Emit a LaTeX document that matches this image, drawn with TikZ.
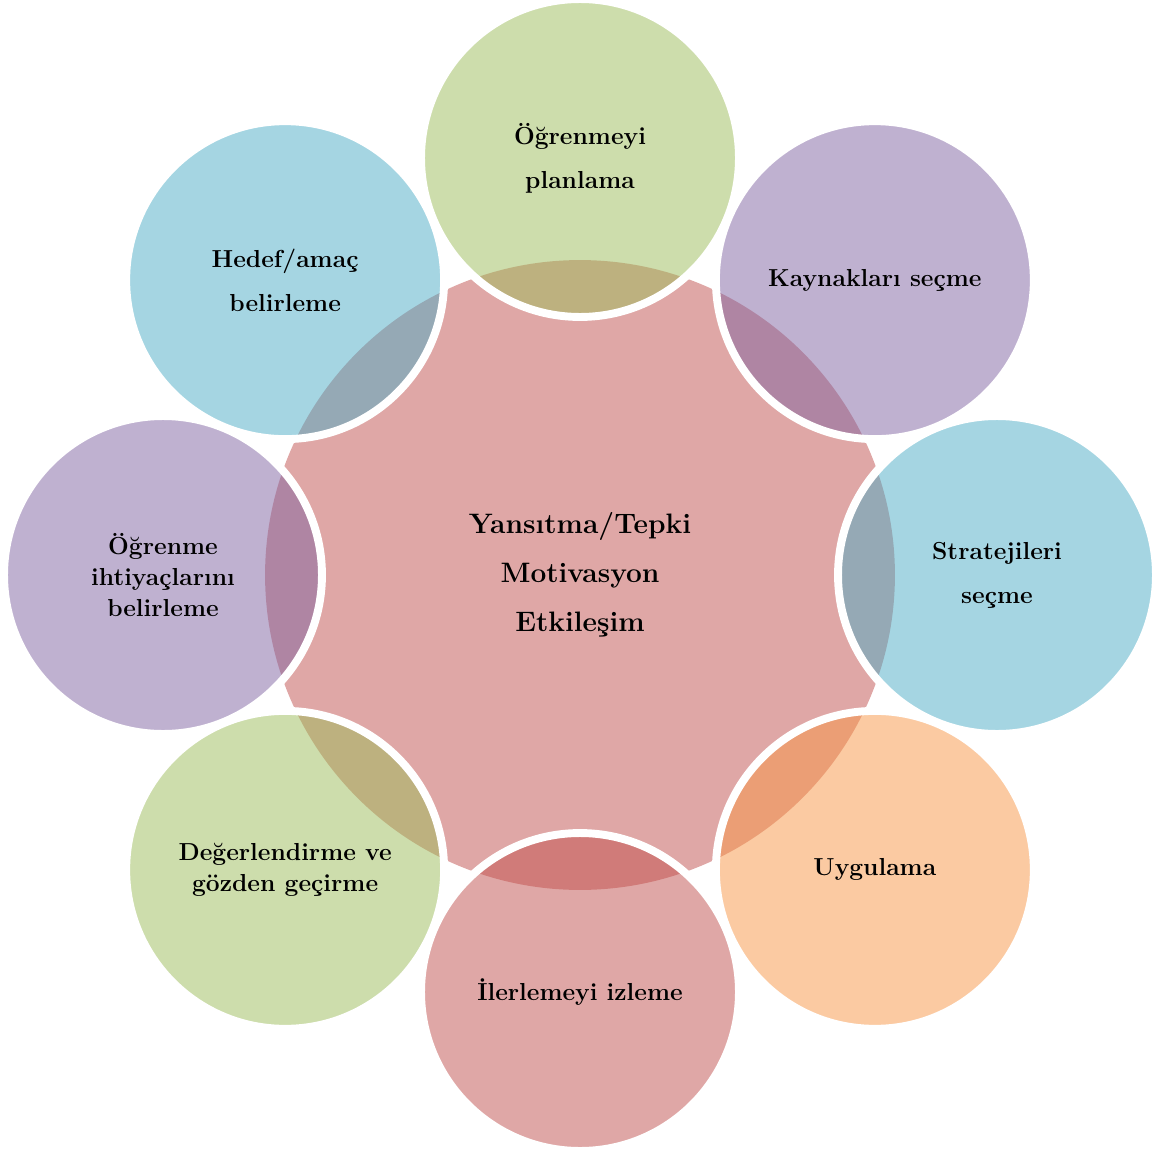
\documentclass[tikz,border=0pt]{standalone}
\usepackage{tikz}
\definecolor{oliveAccent}{HTML}{9BBB59}
\definecolor{purpleAccent}{HTML}{8064A2}
\definecolor{aquaAccent}{HTML}{4BACC6}
\definecolor{orangeAccent}{HTML}{F79646}
\definecolor{redAccent}{HTML}{C0504D}

\begin{document}
\begin{tikzpicture}[x=0.02cm,y=-0.02cm,%%
  hubStyle/.style={circle,inner sep=0pt,minimum size=12.6cm,fill=redAccent,%%
    fill opacity=0.5,text opacity=1,align=center,%%
    font=\fontsize{16}{28}\selectfont\bfseries},%%
  petalStyle/.style={circle,inner sep=0pt,minimum size=6.36cm,draw=white,%%
    line width=4.5pt,fill opacity=0.5,text opacity=1,align=center,%%
    font=\fontsize{14}{25}\selectfont\bfseries},%%
  tightStyle/.style={font=\fontsize{14}{17.5}\selectfont\bfseries},%%
  mediumStyle/.style={font=\fontsize{14}{18}\selectfont\bfseries}%%
]
%%
%%
\pgfmathsetmacro{\hubx}{580}
\pgfmathsetmacro{\huby}{575}
\pgfmathsetmacro{\ring}{417}  %% distance from the hub to each petal
\pgfmathsetmacro{\diag}{\ring*cos(45)}
%%
\useasboundingbox (0,0) rectangle (1153,1149);
%%
%% The hub in the middle.
\node[hubStyle] (hub) at (\hubx,\huby) {Yansıtma/Tepki\\Motivasyon\\Etkileşim};
%%
%% The petals, clockwise from the top.
\node[petalStyle,fill=oliveAccent] (planNode) at (\hubx,\huby-\ring) {Öğrenmeyi\\planlama};
\node[petalStyle,fill=purpleAccent] (sourceNode) at (\hubx+\diag,\huby-\diag) {Kaynakları seçme};
\node[petalStyle,fill=aquaAccent] (strategyNode) at (\hubx+\ring,\huby) {Stratejileri\\seçme};
\node[petalStyle,fill=orangeAccent] (applyNode) at (\hubx+\diag,\huby+\diag) {Uygulama};
\node[petalStyle,fill=redAccent] (monitorNode) at (\hubx,\huby+\ring) {İlerlemeyi izleme};
\node[petalStyle,mediumStyle,fill=oliveAccent] (reviewNode) at (\hubx-\diag,\huby+\diag) {Değerlendirme ve\\gözden geçirme};
\node[petalStyle,tightStyle,fill=purpleAccent] (needNode) at (\hubx-\ring,\huby) {Öğrenme\\ihtiyaçlarını\\belirleme};
\node[petalStyle,fill=aquaAccent] (goalNode) at (\hubx-\diag,\huby-\diag) {Hedef/amaç\\belirleme};
\end{tikzpicture}
\end{document}
